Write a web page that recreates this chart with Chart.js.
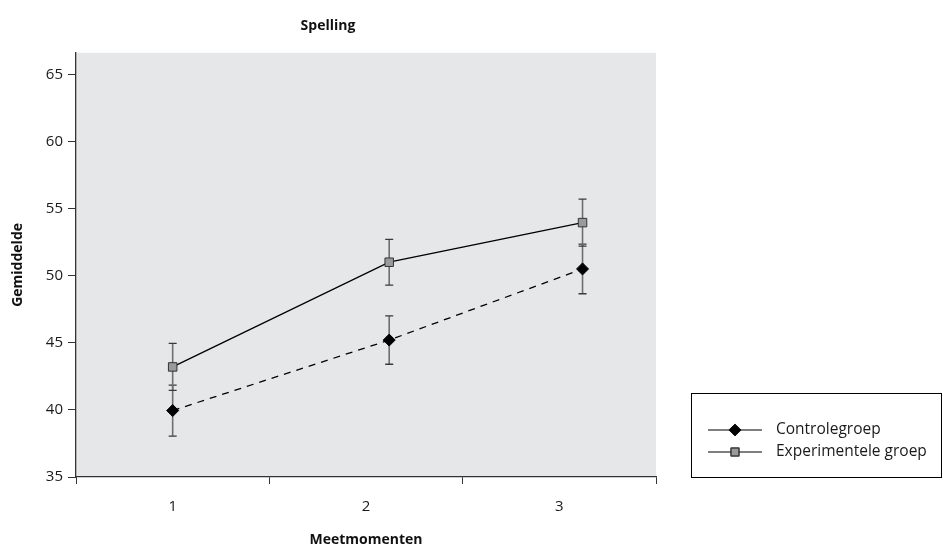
<!DOCTYPE html>
<html>
<head>
<meta charset="utf-8">
<script src="https://cdn.jsdelivr.net/npm/chart.js@4/dist/chart.umd.min.js"></script>
<style>
  html, body { margin: 0; padding: 0; background: #ffffff; }
  #wrap { width: 943px; height: 548px; }
</style>
</head>
<body>
<div id="wrap"><canvas id="spelling"></canvas></div>
<script>
// ---------- data ----------
const momentLabels = ["1", "2", "3"];
const momentX = [1.0, 2.12, 3.12];
const controleMean = [39.95, 45.2, 50.5];
const controleErr = [1.9, 1.8, 1.85];
const experimentMean = [43.2, 51.0, 53.95];
const experimentErr = [1.75, 1.7, 1.75];
const yTicks = [35, 40, 45, 50, 55, 60, 65];

const fontFam = "'Open Sans', 'Noto Sans', sans-serif";

function toPoints(xs, ys) {
    return xs.map((x, i) => ({ x: x, y: ys[i] }));
}

// ---------- plot background ----------
const plotBg = {
    id: 'plotBg',
    beforeDraw(chart) {
        const a = chart.chartArea, ctx = chart.ctx;
        ctx.save();
        ctx.fillStyle = '#e6e7e9';
        ctx.fillRect(a.left, a.top, a.right - a.left, a.bottom - a.top);
        ctx.restore();
    }
};

// ---------- error bars ----------
const errorBars = {
    id: 'errorBars',
    beforeDatasetsDraw(chart) {
        const ctx = chart.ctx;
        const xs = chart.scales.x, ys = chart.scales.y;
        chart.data.datasets.forEach(ds => {
            ds.data.forEach((p, i) => {
                const px = xs.getPixelForValue(p.x);
                const top = ys.getPixelForValue(p.y + ds.err[i]);
                const bot = ys.getPixelForValue(p.y - ds.err[i]);
                ctx.save();
                ctx.strokeStyle = '#6e6e6e';
                ctx.lineWidth = 1.6;
                ctx.beginPath();
                ctx.moveTo(px, top);
                ctx.lineTo(px, bot);
                ctx.stroke();
                ctx.strokeStyle = '#3a3a3a';
                ctx.lineWidth = 1.3;
                ctx.beginPath();
                ctx.moveTo(px - 4, top); ctx.lineTo(px + 4, top);
                ctx.moveTo(px - 4, bot); ctx.lineTo(px + 4, bot);
                ctx.stroke();
                ctx.restore();
            });
        });
    }
};

// ---------- boxed legend at the right ----------
const boxLegend = {
    id: 'boxLegend',
    afterDraw(chart) {
        const ctx = chart.ctx;
        const bx = 691, by = 393, bw = 250, bh = 84;
        ctx.save();
        ctx.strokeStyle = '#000000';
        ctx.lineWidth = 1;
        ctx.strokeRect(bx + 0.5, by + 0.5, bw, bh);
        chart.data.datasets.forEach((ds, i) => {
            const y = by + 37 + i * 22;
            ctx.strokeStyle = '#000000';
            ctx.lineWidth = 1.2;
            ctx.setLineDash([]);
            ctx.beginPath();
            ctx.moveTo(bx + 17, y);
            ctx.lineTo(bx + 71, y);
            ctx.stroke();
            Chart.helpers.drawPoint(ctx, {
                pointStyle: ds.pointStyle,
                radius: ds.pointRadius - 0.5,
                borderWidth: ds.pointBorderWidth
            }, bx + 44, y);
            ctx.fillStyle = ds.pointBackgroundColor;
            ctx.strokeStyle = ds.pointBorderColor;
            ctx.lineWidth = ds.pointBorderWidth;
            ctx.fill();
            ctx.stroke();
            ctx.fillStyle = '#1a1a1a';
            ctx.font = '15.5px ' + fontFam;
            ctx.textBaseline = 'middle';
            ctx.fillText(ds.label, bx + 85, y);
        });
        ctx.restore();
    }
};

new Chart(document.getElementById('spelling'), {
    type: 'line',
    data: {
        datasets: [
            {
                label: 'Controlegroep',
                data: toPoints(momentX, controleMean),
                err: controleErr,
                borderColor: '#000000',
                borderWidth: 1.3,
                borderDash: [7, 6],
                pointStyle: 'rectRot',
                pointRadius: 6,
                pointBackgroundColor: '#000000',
                pointBorderColor: '#000000',
                pointBorderWidth: 1
            },
            {
                label: 'Experimentele groep',
                data: toPoints(momentX, experimentMean),
                err: experimentErr,
                borderColor: '#000000',
                borderWidth: 1.3,
                pointStyle: 'rect',
                pointRadius: 6,
                pointBackgroundColor: '#9a9a9a',
                pointBorderColor: '#333333',
                pointBorderWidth: 1
            }
        ]
    },
    options: {
        responsive: true,
        maintainAspectRatio: false,
        animation: false,
        layout: { padding: { left: 0, right: 287, top: 0, bottom: 0 } },
        plugins: {
            legend: { display: false },
            tooltip: { enabled: false },
            title: {
                display: true,
                text: 'Spelling',
                color: '#111111',
                font: { family: fontFam, size: 14, weight: 'bold' },
                padding: { top: 18, bottom: 18 }
            }
        },
        scales: {
            x: {
                type: 'linear',
                min: 0.5,
                max: 3.5,
                afterBuildTicks: (scale) => {
                    const t = [];
                    for (let i = 0; i <= momentLabels.length; i++) {
                        t.push({ value: 0.5 + i });
                        if (i < momentLabels.length) t.push({ value: 1 + i });
                    }
                    scale.ticks = t;
                },
                afterFit: (scale) => { scale.height = 71; },
                border: { display: true, color: '#333333', width: 1.3 },
                grid: {
                    drawOnChartArea: false,
                    tickLength: 7,
                    tickColor: (c) => (c.tick && Number.isInteger(c.tick.value)) ? 'rgba(0,0,0,0)' : '#333333'
                },
                ticks: {
                    autoSkip: false,
                    maxRotation: 0,
                    padding: 14,
                    color: '#1a1a1a',
                    font: { family: fontFam, size: 15 },
                    callback: (v) => Number.isInteger(v) ? momentLabels[v - 1] : ''
                },
                title: {
                    display: true,
                    text: 'Meetmomenten',
                    color: '#111111',
                    font: { family: fontFam, size: 14, weight: 'bold' },
                    padding: { top: 14, bottom: 0 }
                }
            },
            y: {
                min: 35,
                max: 66.6,
                afterBuildTicks: (scale) => { scale.ticks = yTicks.map(v => ({ value: v })); },
                afterFit: (scale) => { scale.width = 76; },
                border: { display: true, color: '#333333', width: 1.3 },
                grid: { drawOnChartArea: false, tickLength: 8, tickColor: '#333333' },
                ticks: {
                    padding: 5,
                    color: '#1a1a1a',
                    font: { family: fontFam, size: 15 }
                },
                title: {
                    display: true,
                    text: 'Gemiddelde',
                    color: '#111111',
                    font: { family: fontFam, size: 14, weight: 'bold' },
                    padding: { top: 10, bottom: 6 }
                }
            }
        }
    },
    plugins: [plotBg, errorBars, boxLegend]
});
</script>
</body>
</html>
